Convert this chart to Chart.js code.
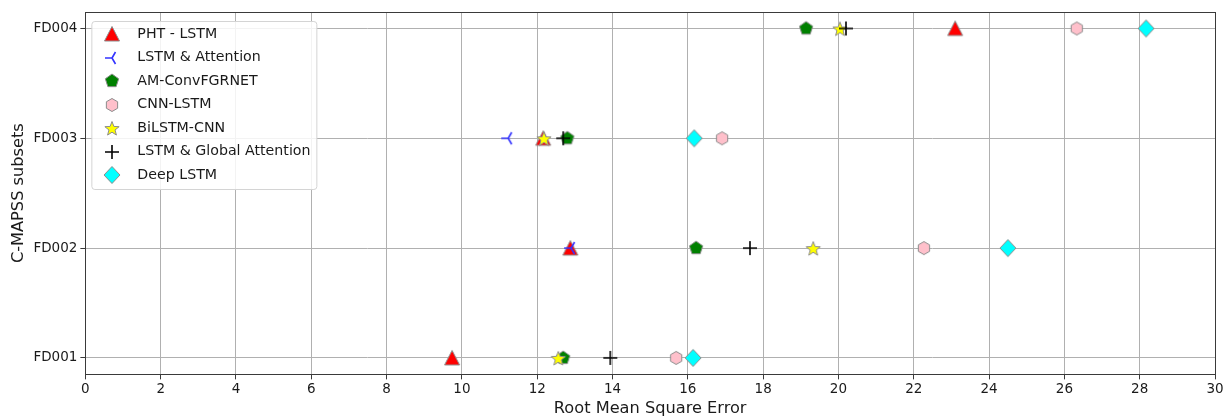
<!DOCTYPE html>
<html>
<head>
<meta charset="utf-8">
<script src="https://cdn.jsdelivr.net/npm/chart.js@4"></script>
<style>
    html, body { margin: 0; padding: 0; background: #fff; }
    #wrap { width: 1226px; height: 419px; }
</style>
</head>
<body>
<div id="wrap"><canvas id="chartRmse"></canvas></div>
<script>
// data (RMSE per subset, order FD001..FD004, null = no point)
const subsets = ["FD001", "FD002", "FD003", "FD004"];
const models = ["PHT - LSTM", "LSTM & Attention", "AM-ConvFGRNET", "CNN-LSTM", "BiLSTM-CNN", "LSTM & Global Attention", "Deep LSTM"];
const phtLstm = [9.74, 12.88, 12.16, 23.1];
const lstmAttention = [null, 12.9, 11.23, null];
const amConvFgrnet = [12.69, 16.22, 12.8, 19.14];
const cnnLstm = [15.69, 22.27, 16.91, 26.33];
const bilstmCnn = [12.56, 19.33, 12.18, 20.04];
const lstmGlobalAttention = [13.94, 17.65, 12.69, 20.2];
const deepLstm = [16.14, 24.5, 16.17, 28.17];
const xTicks = [0, 2, 4, 6, 8, 10, 12, 14, 16, 18, 20, 22, 24, 26, 28, 30];

const FONT = "'DejaVu Sans', sans-serif";
const EDGE = "#8c8c8c";
const AXIS = "#3a3a3a";

// marker images (matplotlib-like shapes)
const makeMarker = (size, draw) => {
    const c = document.createElement("canvas");
    c.width = size;
    c.height = size;
    const ctx = c.getContext("2d");
    draw(ctx, size / 2);
    return c;
};

const polygon = (ctx, pts, fill, stroke) => {
    ctx.beginPath();
    pts.forEach((p, i) => i ? ctx.lineTo(p[0], p[1]) : ctx.moveTo(p[0], p[1]));
    ctx.closePath();
    ctx.fillStyle = fill;
    ctx.fill();
    ctx.lineWidth = 1;
    ctx.strokeStyle = stroke;
    ctx.stroke();
};

const regular = (c, n, r, rot) => {
    let pts = [];
    for (let i = 0; i < n; i++) {
        let a = rot + i * 2 * Math.PI / n;
        pts.push([c + r * Math.cos(a), c + r * Math.sin(a)]);
    }
    return pts;
};

const markerTriangle = makeMarker(18, (ctx, c) => {
    polygon(ctx, [[c, c - 7.5], [c + 7.5, c + 7], [c - 7.5, c + 7]], "#ff0000", EDGE);
});
const markerTriLeft = makeMarker(18, (ctx, c) => {
    ctx.strokeStyle = "#3333ff";
    ctx.lineWidth = 1.6;
    ctx.beginPath();
    ctx.moveTo(c, c);
    ctx.lineTo(c - 7, c);
    ctx.moveTo(c, c);
    ctx.lineTo(c + 3.5, c - 6);
    ctx.moveTo(c, c);
    ctx.lineTo(c + 3.5, c + 6);
    ctx.stroke();
});
const markerPentagon = makeMarker(18, (ctx, c) => {
    polygon(ctx, regular(c, 5, 7, -Math.PI / 2), "#008000", EDGE);
});
const markerHexagon = makeMarker(18, (ctx, c) => {
    polygon(ctx, regular(c, 6, 6.5, -Math.PI / 2), "#ffc0cb", EDGE);
});
const markerStar = makeMarker(18, (ctx, c) => {
    let pts = [];
    for (let i = 0; i < 10; i++) {
        let r = i % 2 ? 3.2 : 7.5;
        let a = -Math.PI / 2 + i * Math.PI / 5;
        pts.push([c + r * Math.cos(a), c + 1 + r * Math.sin(a)]);
    }
    polygon(ctx, pts, "#ffff00", EDGE);
});
const markerPlus = makeMarker(18, (ctx, c) => {
    ctx.strokeStyle = "#000000";
    ctx.lineWidth = 1.6;
    ctx.beginPath();
    ctx.moveTo(c - 7, c);
    ctx.lineTo(c + 7, c);
    ctx.moveTo(c, c - 7);
    ctx.lineTo(c, c + 7);
    ctx.stroke();
});
const markerDiamond = makeMarker(20, (ctx, c) => {
    polygon(ctx, [[c, c - 8.5], [c + 8, c], [c, c + 8.5], [c - 8, c]], "#00ffff", EDGE);
});

const seriesValues = [phtLstm, lstmAttention, amConvFgrnet, cnnLstm, bilstmCnn, lstmGlobalAttention, deepLstm];
const seriesMarkers = [markerTriangle, markerTriLeft, markerPentagon, markerHexagon, markerStar, markerPlus, markerDiamond];

const toPoints = values => values
    .map((v, i) => v === null ? null : { x: v, y: i })
    .filter(p => p !== null);

const datasets = models.map((name, i) => ({
    label: name,
    data: toPoints(seriesValues[i]),
    pointStyle: seriesMarkers[i],
    pointRadius: 8,
    // later series drawn on top, like matplotlib
    order: models.length - i,
}));

// legend drawn inside plot area + axes frame
const insideLegend = {
    id: "insideLegend",
    afterDatasetsDraw(chart) {
        const ctx = chart.ctx;
        const area = chart.chartArea;
        ctx.save();
        // frame
        const l = Math.round(area.left) + 0.5, t = Math.round(area.top) + 0.5;
        const r = Math.round(area.right) + 0.5, b = Math.round(area.bottom) + 0.5;
        ctx.strokeStyle = AXIS;
        ctx.lineWidth = 1;
        ctx.strokeRect(l, t, r - l, b - t);

        const x0 = area.left + 6, y0 = area.top + 9, w = 225, h = 168;
        ctx.beginPath();
        ctx.roundRect(x0 + 0.5, y0 + 0.5, w, h, 3);
        ctx.fillStyle = "rgba(255,255,255,0.85)";
        ctx.fill();
        ctx.strokeStyle = "#d4d4d4";
        ctx.stroke();

        ctx.font = "14.2px " + FONT;
        ctx.fillStyle = "#1a1a1a";
        ctx.textBaseline = "middle";
        models.forEach((name, i) => {
            const cy = y0 + 13 + i * 23.5;
            const m = seriesMarkers[i];
            ctx.drawImage(m, Math.round(x0 + 21 - m.width / 2), Math.round(cy - m.height / 2));
            ctx.fillText(name, x0 + 46, cy);
        });
        ctx.restore();
    }
};

new Chart(document.getElementById("chartRmse"), {
    type: "scatter",
    data: { datasets: datasets },
    options: {
        responsive: true,
        maintainAspectRatio: false,
        animation: false,
        layout: { padding: { top: 12, right: 11, left: 9, bottom: 0 } },
        plugins: {
            legend: { display: false },
            tooltip: { enabled: false },
        },
        scales: {
            x: {
                type: "linear",
                min: 0,
                max: 30,
                afterBuildTicks: scale => { scale.ticks = xTicks.map(v => ({ value: v })); },
                grid: { color: "#b0b0b0", tickColor: AXIS, tickLength: 5, drawTicks: true },
                border: { display: false },
                ticks: { color: "#1a1a1a", font: { family: FONT, size: 13.5 }, padding: 2, maxRotation: 0 },
                title: { display: true, text: "Root Mean Square Error", color: "#1a1a1a", font: { family: FONT, size: 16.2 }, padding: { top: 0, bottom: 0 } },
            },
            y: {
                type: "linear",
                min: -0.15,
                max: 3.15,
                afterBuildTicks: scale => { scale.ticks = subsets.map((s, i) => ({ value: i })); },
                grid: { color: "#b0b0b0", tickColor: AXIS, tickLength: 5, drawTicks: true },
                border: { display: false },
                ticks: {
                    color: "#1a1a1a",
                    font: { family: FONT, size: 13.5 },
                    padding: 3,
                    callback: v => subsets[v],
                },
                title: { display: true, text: "C-MAPSS subsets", color: "#1a1a1a", font: { family: FONT, size: 16.2 }, padding: { top: 0, bottom: 2 } },
            },
        },
    },
    plugins: [insideLegend],
});
</script>
</body>
</html>
